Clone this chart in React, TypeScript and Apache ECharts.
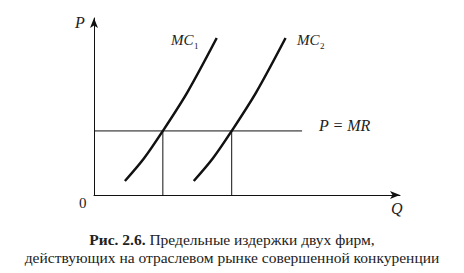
import React, { useEffect, useRef } from "react";
import * as echarts from "echarts";

// Data (abstract units: Q 0..100, P 0..100)
const mc1Q = [10.1, 16.3, 22.5, 30.5, 40.1];
const mc1P = [7.9, 20.6, 36.2, 58.0, 88.7];
const mc2Q = [32.6, 38.8, 45.0, 53.0, 62.6];
const mc2P = [7.9, 20.6, 36.2, 58.0, 88.7];
const priceMR = 36.2;
const mrQEnd = 68;
const eqQ = [22.5, 45.0];
const captionLine1 = "Предельные издержки двух фирм,";
const captionBold = "Рис. 2.6.";
const captionLine2 = "действующих на отраслевом рынке совершенной конкуренции";

const FAMILY = "'Liberation Serif', 'Times New Roman', serif";

function txt(size: number, italic = false, bold = false) {
  return {
    fontFamily: FAMILY,
    fontSize: size,
    fontStyle: italic ? "italic" : "normal",
    fontWeight: bold ? "bold" : "normal",
    fill: "#222",
  };
}

export default function App() {
  const ref = useRef<HTMLDivElement>(null);
  useEffect(() => {
    if (!ref.current) return;
    const chart = echarts.init(ref.current, undefined, { renderer: "svg" });
    const line = (data: number[][], width: number, smooth: boolean | number = false) => ({
      type: "line",
      data,
      smooth,
      symbol: "none",
      silent: true,
      lineStyle: { color: "#111", width },
    });
    const axisCommon = {
      type: "value",
      min: 0,
      max: 100,
      axisLine: { show: true, lineStyle: { color: "#111", width: 1 }, symbol: ["none", "arrow"], symbolSize: [6, 10] },
      axisTick: { show: false },
      axisLabel: { show: false },
      splitLine: { show: false },
    };
    const option: any = {
      animation: false,
      backgroundColor: "#fff",
      textStyle: { fontFamily: FAMILY },
      grid: { left: 94, right: 64, top: 18, bottom: 78, containLabel: false },
      xAxis: axisCommon,
      yAxis: axisCommon,
      series: [
        line(mc1Q.map((q, i) => [q, mc1P[i]]), 2.5, 0.3),
        line(mc2Q.map((q, i) => [q, mc2P[i]]), 2.5, 0.3),
        line([[0, priceMR], [mrQEnd, priceMR]], 1),
        ...eqQ.map((q) => line([[q, 0], [q, priceMR]], 1)),
      ],
      graphic: [
        { type: "text", left: 75, top: 14, style: { text: "P", ...txt(16, true) } },
        { type: "text", left: 79, top: 195, style: { text: "0", ...txt(15) } },
        { type: "text", left: 391, top: 200, style: { text: "Q", ...txt(16, true) } },
        { type: "text", left: 171, top: 32, style: { text: "MC", ...txt(15, true) } },
        { type: "text", left: 194, top: 41, style: { text: "1", ...txt(9) } },
        { type: "text", left: 297, top: 32, style: { text: "MC", ...txt(15, true) } },
        { type: "text", left: 320, top: 41, style: { text: "2", ...txt(9) } },
        { type: "text", left: 319, top: 117, style: { text: "P = MR", ...txt(16, true) } },
        {
          type: "text",
          left: "center",
          top: 231,
          style: {
            text: `{b|${captionBold}} {n|${captionLine1}}`,
            ...txt(15.5),
            rich: { b: txt(15.5, false, true), n: txt(15.5) },
          },
        },
        {
          type: "text",
          left: "center",
          top: 249,
          style: { text: captionLine2, ...txt(15.5) },
        },
      ],
    };
    chart.setOption(option);
    return () => chart.dispose();
  }, []);
  return <div ref={ref} style={{ position: "fixed", left: 0, top: 0, width: 464, height: 273 }} />;
}
